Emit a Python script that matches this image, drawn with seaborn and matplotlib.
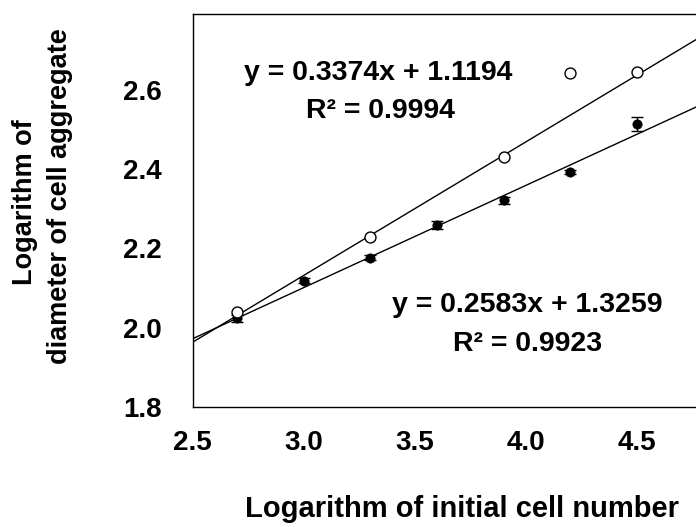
import numpy as np
import pandas as pd
import matplotlib
matplotlib.use("Agg")
import matplotlib.pyplot as plt
import seaborn as sns

# ---- data ----
open_x = [2.7, 3.3, 3.9, 4.2, 4.5]
open_y = [2.039, 2.228, 2.432, 2.644, 2.646]

filled_x = [2.7, 3.0, 3.3, 3.6, 3.9, 4.2, 4.5]
filled_y = [2.023, 2.118, 2.176, 2.260, 2.321, 2.393, 2.515]
filled_err = [0.008, 0.006, 0.006, 0.010, 0.008, 0.006, 0.018]

open_fit = (0.3374, 1.1194)
filled_fit = (0.2583, 1.3259)
open_text = ["y = 0.3374x + 1.1194", "R\u00b2 = 0.9994"]
filled_text = ["y = 0.2583x + 1.3259", "R\u00b2 = 0.9923"]

xticks = [2.5, 3.0, 3.5, 4.0, 4.5]
yticks = [1.8, 2.0, 2.2, 2.4, 2.6]

sns.set_theme(style="white")
plt.rcParams['font.family'] = ['Liberation Sans', 'DejaVu Sans']
plt.rcParams['font.weight'] = 'bold'
plt.rcParams['text.color'] = 'black'
plt.rcParams['xtick.labelcolor'] = 'black'
plt.rcParams['ytick.labelcolor'] = 'black'

W, H = 696, 527
fig = plt.figure(figsize=(W / 100, H / 100), dpi=100)
ax = fig.add_axes([192.6 / W, (H - 406.7) / H, 555.5 / W, (406.7 - 14) / H])

# regression lines
line_x = np.array([2.5, 5.0])
df_lines = pd.DataFrame({
    'x': np.concatenate([line_x, line_x]),
    'y': np.concatenate([open_fit[0] * line_x + open_fit[1],
                         filled_fit[0] * line_x + filled_fit[1]]),
    'series': ['open'] * 2 + ['filled'] * 2,
})
sns.lineplot(data=df_lines, x='x', y='y', units='series', estimator=None,
             color='black', linewidth=1.0, ax=ax, legend=False)

# filled points with error bars
ax.errorbar(filled_x, filled_y, yerr=filled_err, fmt='none', ecolor='black',
            elinewidth=1.0, capsize=4, capthick=1.0, zorder=3)
df_f = pd.DataFrame({'x': filled_x, 'y': filled_y})
sns.scatterplot(data=df_f, x='x', y='y', ax=ax, color='black', s=45,
                marker='o', edgecolor='black', linewidth=0.5, zorder=4)

# open points
df_o = pd.DataFrame({'x': open_x, 'y': open_y})
sns.scatterplot(data=df_o, x='x', y='y', ax=ax, facecolor='white', s=62,
                marker='o', edgecolor='black', linewidth=1.0, zorder=5)

ax.set_xlim(2.5, 5.0)
ax.set_ylim(1.8, 2.792)
ax.set_xticks(xticks)
ax.set_yticks(yticks)
ax.set_xticklabels([f"{t:.1f}" for t in xticks], fontsize=20, fontweight='bold')
ax.set_yticklabels([f"{t:.1f}" for t in yticks], fontsize=20, fontweight='bold')
ax.tick_params(axis='both', direction='in', length=9, width=1.0, color='black')
ax.tick_params(axis='x', pad=17)
ax.tick_params(axis='y', pad=22)
ax.set_xlabel('')
ax.set_ylabel('')
for s in ax.spines.values():
    s.set_color('black')
    s.set_linewidth(1.0)

# equations
def put(px, py, s):
    fig.text(px / W, 1 - py / H, s, ha='center', va='baseline',
             fontsize=20.5, fontweight='bold', color='black')

put(378, 80, open_text[0])
put(380, 118, open_text[1])
put(527, 312, filled_text[0])
put(528, 351, filled_text[1])

# axis labels
fig.text(462 / W, 1 - 509 / H, 'Logarithm of initial cell number', ha='center',
         va='center', fontsize=21, fontweight='bold')
fig.text(25 / W, 1 - 202 / H, 'Logarithm of', ha='center', va='center',
         rotation=90, fontsize=19.5, fontweight='bold')
fig.text(60 / W, 1 - 196 / H, 'diameter of cell aggregate', ha='center',
         va='center', rotation=90, fontsize=19.5, fontweight='bold')

fig.savefig('out.png', dpi=100)
